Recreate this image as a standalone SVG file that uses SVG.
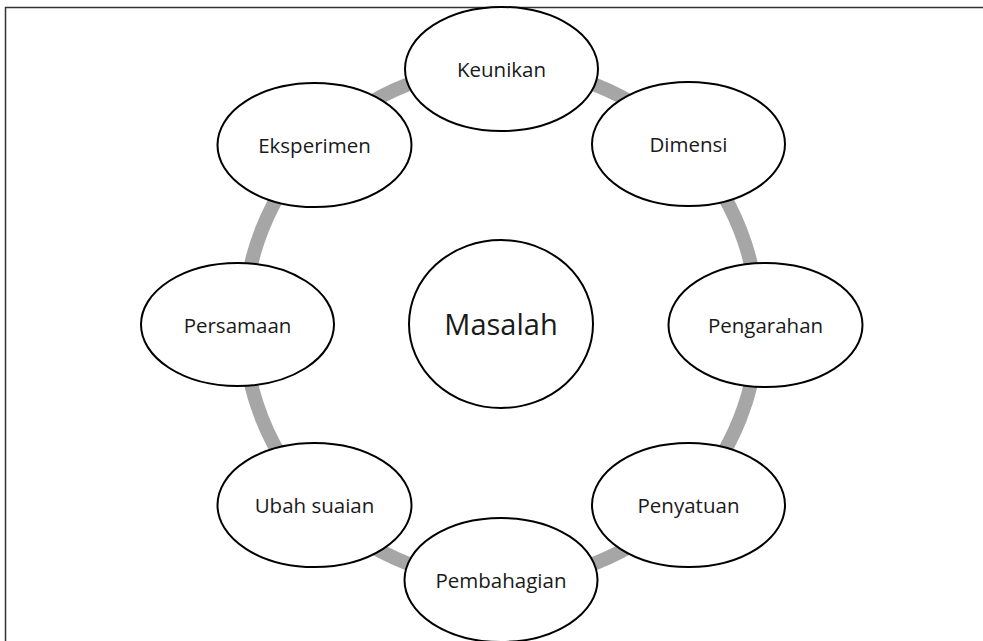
<svg xmlns="http://www.w3.org/2000/svg" width="983" height="641" viewBox="0 0 983 641">
<style>
.node ellipse{fill:#fff;stroke:#000;stroke-width:2}
.node text{font-family:"Open Sans","Noto Sans",sans-serif;font-size:20.5px;fill:#1a1a1a;text-anchor:middle}
.ring{fill:none;stroke:#a6a6a6;stroke-width:14}
</style>
<rect x="0" y="0" width="983" height="641" fill="#fff"/>
<rect x="5.5" y="7.5" width="1000" height="700" fill="none" stroke="#333" stroke-width="1.5"/>
<g id="connectors">
<circle class="ring" cx="501" cy="324" r="257"/>
</g>
<g id="masalah" class="node">
<ellipse cx="501" cy="324" rx="92" ry="84"/>
<text x="501" y="335" style="font-size:29px">Masalah</text>
</g>
<g id="keunikan" class="node">
<ellipse cx="501.5" cy="69" rx="96.5" ry="62"/>
<text x="501.5" y="77">Keunikan</text>
</g>
<g id="dimensi" class="node">
<ellipse cx="688.5" cy="144" rx="96.5" ry="62"/>
<text x="688.5" y="152">Dimensi</text>
</g>
<g id="pengarahan" class="node">
<ellipse cx="765.5" cy="325" rx="97" ry="62"/>
<text x="765.5" y="333">Pengarahan</text>
</g>
<g id="penyatuan" class="node">
<ellipse cx="688.5" cy="505" rx="96.5" ry="62"/>
<text x="688.5" y="513">Penyatuan</text>
</g>
<g id="pembahagian" class="node">
<ellipse cx="501" cy="580" rx="96.5" ry="62"/>
<text x="501" y="588">Pembahagian</text>
</g>
<g id="ubah-suaian" class="node">
<ellipse cx="314.5" cy="505" rx="97" ry="62"/>
<text x="314.5" y="513">Ubah suaian</text>
</g>
<g id="persamaan" class="node">
<ellipse cx="237.5" cy="324.5" rx="96.5" ry="61.5"/>
<text x="237.5" y="332.5">Persamaan</text>
</g>
<g id="eksperimen" class="node">
<ellipse cx="314.5" cy="145" rx="97" ry="62"/>
<text x="314.5" y="153">Eksperimen</text>
</g>
</svg>
